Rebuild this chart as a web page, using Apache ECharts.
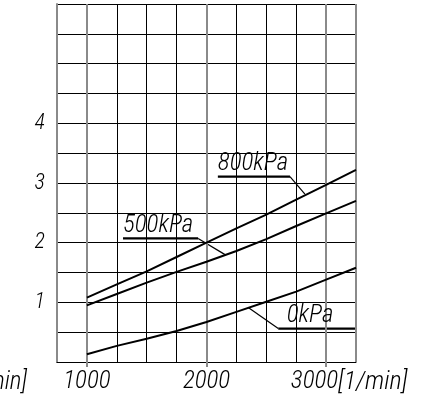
<!DOCTYPE html>
<html><head><meta charset="utf-8">
<script src="https://cdn.jsdelivr.net/npm/echarts@6/dist/echarts.min.js"></script>
<style>html,body{margin:0;padding:0;background:#fff}#c{width:424px;height:401px}</style>
</head><body><div id="c"></div>
<script>
// ---- data ----
const rpm  = [1000, 1250, 1500, 1750, 2000, 2250, 2500, 2750, 3000, 3250];
const p800 = [1.08, 1.30, 1.52, 1.76, 2.00, 2.24, 2.47, 2.72, 2.97, 3.22];
const p500 = [0.95, 1.14, 1.33, 1.51, 1.68, 1.86, 2.06, 2.28, 2.49, 2.70];
const p0   = [0.13, 0.27, 0.39, 0.52, 0.67, 0.84, 1.01, 1.18, 1.38, 1.58];
const seriesNames = ['800kPa', '500kPa', '0kPa'];
const xTickLabels = [1000, 2000, 3000];
const yTickLabels = [1, 2, 3, 4];
const xUnit = '[1/min]';
const yUnit = '[l/min]';
// annotation leaders (data coordinates)
const leaderLines = [
  [[2823, 2.815], [2698, 3.106]],
  [[2162, 1.791], [1930, 2.071]],
  [[2349, 0.913], [2600, 0.561]]
];
const underlines = [
  [[2698, 3.106], [2095, 3.106]],
  [[1930, 2.071], [1302, 2.071]],
  [[2600, 0.561], [3250, 0.561]]
];
const labelAnchors = [[2095, 3.106], [1302, 2.071], [2670, 0.561]];

// ---- chart ----
const FONT = "'Roboto Condensed','Liberation Sans',sans-serif";
const GRAY = '#8a8a8a';
const TXT = '#000';
const chart = echarts.init(document.getElementById('c'), null, {renderer: 'canvas'});

const curves = [p800, p500, p0];
const series = [];
series.push({
  type: 'line', data: [], silent: true, z: 1,
  markLine: {
    silent: true, symbol: 'none', label: {show: false},
    lineStyle: {color: GRAY, width: 2, type: 'solid'},
    data: xTickLabels.concat([3250]).map(v => ({xAxis: v}))
  }
});
curves.forEach((c, i) => {
  series.push({
    name: seriesNames[i], type: 'line', showSymbol: false, silent: true, z: 5,
    data: rpm.map((x, j) => [x, c[j]]),
    lineStyle: {color: '#000', width: 2}
  });
  series.push({
    type: 'line', showSymbol: false, silent: true, z: 4,
    data: leaderLines[i], lineStyle: {color: '#000', width: 1.2}
  });
  series.push({
    type: 'line', showSymbol: false, silent: true, z: 4,
    data: underlines[i], lineStyle: {color: '#000', width: 2.2}
  });
});

chart.setOption({
  animation: false,
  backgroundColor: '#fff',
  grid: {left: 57, right: 68, top: 4, bottom: 39, containLabel: false},
  xAxis: [{
    type: 'value', min: 750, max: 3250, interval: 250, position: 'top',
    axisLine: {show: false}, axisTick: {show: false}, axisLabel: {show: false},
    splitLine: {show: true, lineStyle: {color: '#000', width: 1}}
  }, {
    type: 'value', min: 750, max: 3250, position: 'bottom', gridIndex: 0,
    axisLine: {show: true, lineStyle: {color: '#000', width: 1}},
    axisTick: {show: true, customValues: xTickLabels, length: 5, lineStyle: {color: GRAY, width: 2}},
    axisLabel: {
      show: true, customValues: xTickLabels, margin: 7,
      fontFamily: FONT, fontSize: 25, fontStyle: 'italic', fontWeight: 300, color: TXT,
      formatter: v => v === 3000 ? '{u|' + v + '}{w|' + xUnit + '}' : String(v),
      rich: {
        u: {fontFamily: FONT, fontSize: 25, fontStyle: 'italic', fontWeight: 300, color: TXT, padding: [0, 0, 0, 46]},
        w: {fontFamily: FONT, fontSize: 26, fontStyle: 'italic', fontWeight: 300, color: TXT}
      }
    },
    splitLine: {show: false}
  }],
  yAxis: {
    type: 'value', min: 0, max: 6, interval: 0.5,
    axisLine: {show: true, lineStyle: {color: GRAY, width: 2}},
    axisTick: {show: false},
    axisLabel: {
      show: true, margin: 12, customValues: yTickLabels,
      fontFamily: FONT, fontSize: 22, fontStyle: 'italic', fontWeight: 300, color: TXT,
      formatter: v => yTickLabels.indexOf(v) >= 0 ? String(v) : ''
    },
    splitLine: {show: true, lineStyle: {color: '#000', width: 1}}
  },
  series: series
});

// annotation texts and unit text, placed via the chart's own scales
const g = labelAnchors.map((a, i) => {
  const p = chart.convertToPixel({gridIndex: 0}, a);
  return {
    type: 'text', silent: true, z: 10, x: p[0], y: p[1] - 0,
    style: {text: seriesNames[i], fontFamily: FONT, fontSize: 25, fontStyle: 'italic', fontWeight: 300,
            fill: TXT, align: 'left', verticalAlign: 'bottom'}
  };
});
const origin = chart.convertToPixel({gridIndex: 0}, [750, 0]);
g.push({
  type: 'text', silent: true, z: 10, x: origin[0] - 30, y: origin[1] + 21,
  style: {text: yUnit, fontFamily: FONT, fontSize: 25, fontStyle: 'italic', fontWeight: 300,
          fill: TXT, align: 'right', verticalAlign: 'middle'}
});
chart.setOption({graphic: g});
</script>
</body></html>
